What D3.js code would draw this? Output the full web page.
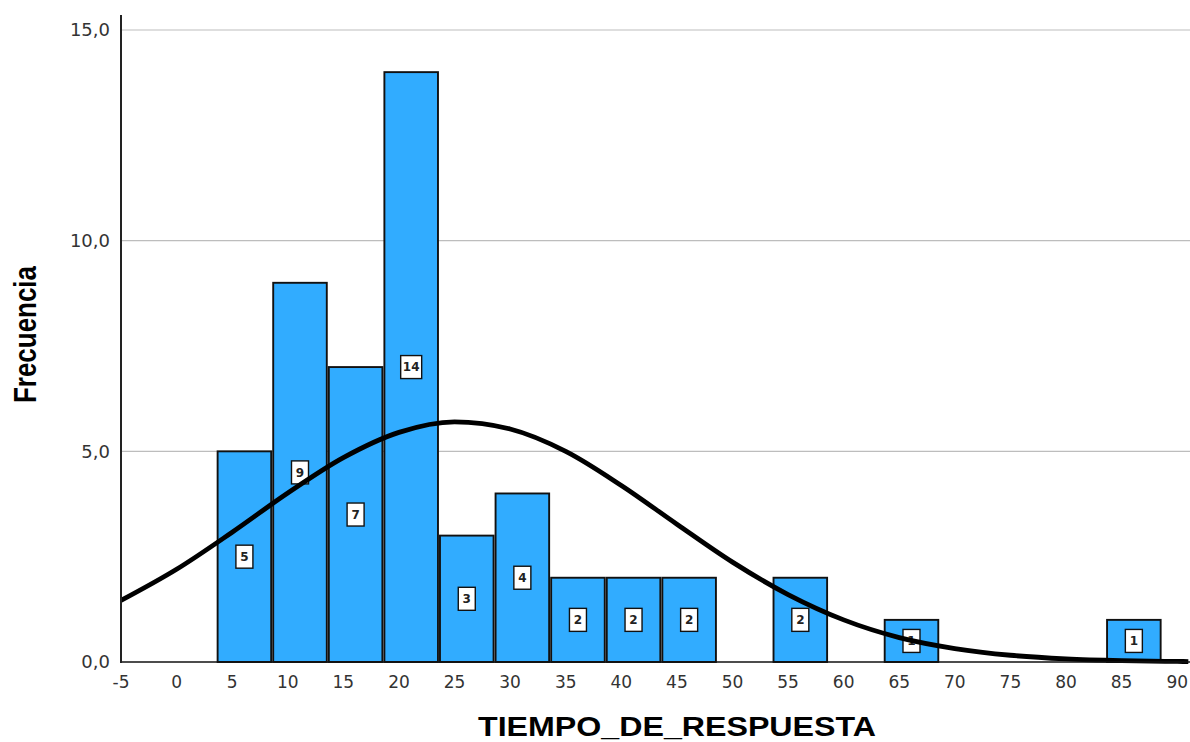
<html>
<head>
<script src="https://cdnjs.cloudflare.com/ajax/libs/d3/7.8.5/d3.min.js"></script>
<style>
  body { margin: 0; background: white; }
  text { font-family: "DejaVu Sans", sans-serif; }
</style>
</head>
<body>
<svg id="chart" width="1190" height="742"></svg>
<script>
// histogram bins (lower edge) and frequencies
var binStart = [3.6, 8.6, 13.6, 18.6, 23.6, 28.6, 33.6, 38.6, 43.6, 48.6, 53.6, 58.6, 63.6, 68.6, 73.6, 78.6, 83.6];
var counts   = [5, 9, 7, 14, 3, 4, 2, 2, 2, 0, 2, 0, 1, 0, 0, 0, 1];
var binWidth = 5;

var xTicks = [-5, 0, 5, 10, 15, 20, 25, 30, 35, 40, 45, 50, 55, 60, 65, 70, 75, 80, 85, 90];
var yTicks = [0, 5, 10, 15];

// normal curve
var curveX = [-5, 0, 5, 10, 15, 20, 25, 30, 35, 40, 45, 50, 55, 60, 65, 70, 75, 80, 85, 90, 91];
var curveY = [1.46, 2.2, 3.08, 4.01, 4.85, 5.45, 5.7, 5.53, 5.0, 4.19, 3.27, 2.37, 1.6, 1.0, 0.58, 0.32, 0.16, 0.074, 0.032, 0.013, 0.01];

var svg = d3.select("#chart");
var x = d3.scaleLinear().domain([-5, 91.15]).range([121, 1190]);
var y = d3.scaleLinear().domain([0, 15]).range([662, 30]);

// grid
svg.append("g").selectAll("line")
  .data(yTicks.filter(function (d) { return d > 0; }))
  .enter().append("line")
    .attr("x1", 122).attr("x2", 1190)
    .attr("y1", function (d) { return y(d); })
    .attr("y2", function (d) { return y(d); })
    .attr("stroke", "#bdbdbd").attr("stroke-width", 1.2);

var bins = binStart.map(function (s, i) { return {x0: s, n: counts[i]}; })
  .filter(function (d) { return d.n > 0; });

svg.append("g").selectAll("rect")
  .data(bins)
  .enter().append("rect")
    .attr("x", function (d) { return x(d.x0) + 1; })
    .attr("width", function (d) { return x(d.x0 + binWidth) - x(d.x0) - 2; })
    .attr("y", function (d) { return y(d.n); })
    .attr("height", function (d) { return y(0) - y(d.n); })
    .attr("fill", "#31acff")
    .attr("stroke", "#111").attr("stroke-width", 1.9);

// count labels
var lab = svg.append("g").selectAll("g")
  .data(bins)
  .enter().append("g")
    .attr("transform", function (d) {
      return "translate(" + x(d.x0 + binWidth / 2) + "," + y(d.n / 2) + ")";
    });
lab.append("rect")
    .attr("x", function (d) { return d.n > 9 ? -10.5 : -8.5; })
    .attr("width", function (d) { return d.n > 9 ? 21 : 17; })
    .attr("y", -11.5).attr("height", 23)
    .attr("fill", "white").attr("stroke", "#111").attr("stroke-width", 1.4);
lab.append("text")
    .attr("text-anchor", "middle").attr("dy", "0.36em")
    .style("font-size", "12px").style("font-weight", "bold")
    .attr("fill", "#222")
    .text(function (d) { return d.n; });

// curve
var line = d3.line()
  .x(function (d) { return x(d[0]); })
  .y(function (d) { return y(d[1]); })
  .curve(d3.curveMonotoneX);
svg.append("path")
  .datum(curveX.map(function (v, i) { return [v, curveY[i]]; }))
  .attr("d", line)
  .attr("fill", "none").attr("stroke", "#000").attr("stroke-width", 4.8);

// axes
svg.append("line").attr("x1", 121).attr("x2", 1190).attr("y1", 662).attr("y2", 662)
  .attr("stroke", "#111").attr("stroke-width", 1.6);
svg.append("line").attr("x1", 121).attr("x2", 121).attr("y1", 15).attr("y2", 663)
  .attr("stroke", "#222").attr("stroke-width", 2);

svg.append("g").selectAll("text")
  .data(xTicks).enter().append("text")
    .attr("x", function (d) { return x(d); })
    .attr("y", 688)
    .attr("text-anchor", "middle")
    .style("font-size", "17px").attr("fill", "#333")
    .text(function (d) { return d; });

svg.append("g").selectAll("text")
  .data(yTicks).enter().append("text")
    .attr("x", 110)
    .attr("y", function (d) { return y(d); })
    .attr("dy", "0.36em")
    .attr("text-anchor", "end")
    .style("font-size", "18px").attr("fill", "#333")
    .text(function (d) { return d3.format(".1f")(d).replace(".", ","); });

svg.append("text")
  .attr("x", 478).attr("y", 736)
  .attr("textLength", 398).attr("lengthAdjust", "spacingAndGlyphs")
  .style("font-family", "'Liberation Sans', Arial, sans-serif")
  .style("font-size", "27px").style("font-weight", "bold")
  .text("TIEMPO_DE_RESPUESTA");

svg.append("text")
  .attr("transform", "translate(36,403) rotate(-90)")
  .attr("textLength", 137).attr("lengthAdjust", "spacingAndGlyphs")
  .style("font-family", "'Liberation Sans', Arial, sans-serif")
  .style("font-size", "31px").style("font-weight", "bold")
  .text("Frecuencia");
</script>
</body>
</html>
